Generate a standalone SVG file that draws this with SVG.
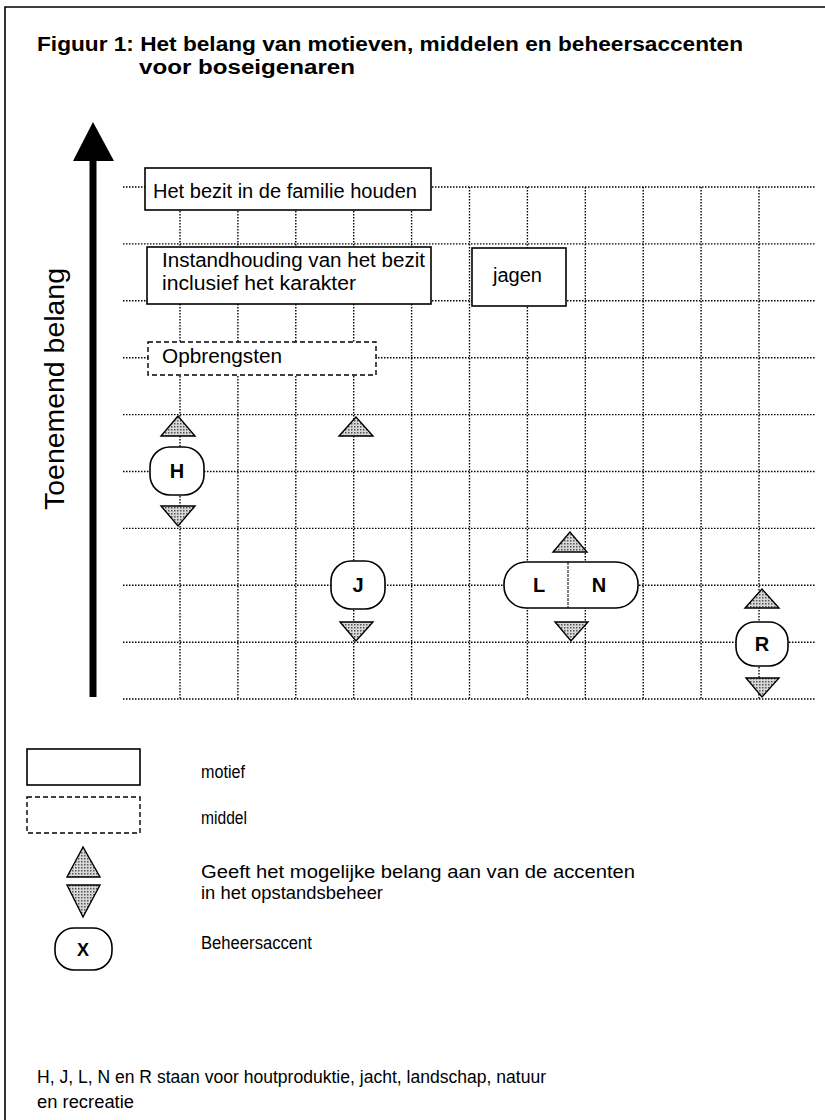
<svg xmlns="http://www.w3.org/2000/svg" width="825" height="1120" viewBox="0 0 825 1120">
<style>
text{font-family:"Liberation Sans",Arial,sans-serif;fill:#000}
.t{font-size:20px;font-weight:bold}
.n{font-size:20px}
.k{font-size:20px;font-weight:bold;text-anchor:middle}
.l{font-size:17.5px}
.grid line{stroke:#000;stroke-width:1.4;stroke-dasharray:1.5 1.5}
.box{fill:#fff;stroke:#000;stroke-width:1.6}
.dbox{fill:#fff;stroke:#000;stroke-width:1.4;stroke-dasharray:5 3}
.pill{fill:#fff;stroke:#000;stroke-width:1.6}
.tri{fill:url(#stip);stroke:#000;stroke-width:1.4;stroke-linejoin:miter}
</style>
<defs>
<pattern id="stip" width="3" height="3" patternUnits="userSpaceOnUse">
<rect width="3" height="3" fill="#d8d8d8"/>
<rect width="1.5" height="1.5" fill="#555"/>
</pattern>
</defs>
<rect width="825" height="1120" fill="#fff"/>
<path d="M826,7 H5 V1121" fill="none" stroke="#000" stroke-width="1.6"/>
<text class="t" x="37" y="51" textLength="706" lengthAdjust="spacingAndGlyphs">Figuur 1: Het belang van motieven, middelen en beheersaccenten</text>
<text class="t" x="139" y="74" textLength="216" lengthAdjust="spacingAndGlyphs">voor boseigenaren</text>
<g id="axis">
<line x1="93" y1="158" x2="93" y2="697" stroke="#000" stroke-width="7"/>
<polygon points="93,122 73,161 114,161" fill="#000"/>
<text class="n" transform="translate(64,389) rotate(-90)" text-anchor="middle" style="font-size:28px" textLength="242" lengthAdjust="spacingAndGlyphs">Toenemend belang</text>
</g>
<g id="connectors" class="grid">
<line x1="123" y1="187" x2="815" y2="187"/>
<line x1="123" y1="243.9" x2="815" y2="243.9"/>
<line x1="123" y1="300.8" x2="815" y2="300.8"/>
<line x1="123" y1="357.7" x2="815" y2="357.7"/>
<line x1="123" y1="414.6" x2="815" y2="414.6"/>
<line x1="123" y1="471.5" x2="815" y2="471.5"/>
<line x1="123" y1="528.4" x2="815" y2="528.4"/>
<line x1="123" y1="585.3" x2="815" y2="585.3"/>
<line x1="123" y1="642.2" x2="815" y2="642.2"/>
<line x1="123" y1="699" x2="815" y2="699"/>
<line x1="180" y1="187" x2="180" y2="699"/>
<line x1="237.9" y1="187" x2="237.9" y2="699"/>
<line x1="295.8" y1="187" x2="295.8" y2="699"/>
<line x1="353.7" y1="187" x2="353.7" y2="699"/>
<line x1="411.6" y1="187" x2="411.6" y2="699"/>
<line x1="469.5" y1="187" x2="469.5" y2="699"/>
<line x1="527.4" y1="187" x2="527.4" y2="699"/>
<line x1="585.3" y1="187" x2="585.3" y2="699"/>
<line x1="643.2" y1="187" x2="643.2" y2="699"/>
<line x1="701.1" y1="187" x2="701.1" y2="699"/>
<line x1="759" y1="187" x2="759" y2="699"/>
</g>
<g id="node-familie">
<rect class="box" x="145" y="168" width="286" height="42"/>
<text class="n" x="153" y="198" textLength="264" lengthAdjust="spacingAndGlyphs">Het bezit in de familie houden</text>
</g>
<g id="node-instandhouding">
<rect class="box" x="147" y="247" width="284" height="57"/>
<text class="n" x="162" y="267" textLength="263" lengthAdjust="spacingAndGlyphs">Instandhouding van het bezit</text>
<text class="n" x="162" y="290" textLength="194" lengthAdjust="spacingAndGlyphs">inclusief het karakter</text>
</g>
<g id="node-jagen">
<rect class="box" x="472" y="248" width="94" height="58"/>
<text class="n" x="493" y="282" textLength="49" lengthAdjust="spacingAndGlyphs">jagen</text>
</g>
<g id="node-opbrengsten">
<rect class="dbox" x="148" y="342" width="228" height="33"/>
<text class="n" x="162" y="363" textLength="120" lengthAdjust="spacingAndGlyphs">Opbrengsten</text>
</g>
<g id="node-H">
<polygon class="tri" points="178,416 161,436 195,436"/>
<rect class="pill" x="150" y="447" width="54" height="48" rx="20"/>
<text class="k" x="177" y="478">H</text>
<polygon class="tri" points="161,506 195,506 178,526"/>
</g>
<g id="node-J">
<polygon class="tri" points="356,417 339,436 373,436"/>
<rect class="pill" x="331" y="561" width="54" height="48" rx="20"/>
<text class="k" x="358" y="592">J</text>
<polygon class="tri" points="340,622 373,622 356,641"/>
</g>
<g id="node-LN">
<polygon class="tri" points="570,532 553,552 587,552"/>
<rect class="pill" x="504" y="562" width="134" height="46" rx="22"/>
<line x1="568" y1="562" x2="568" y2="608" stroke="#000" stroke-width="1" stroke-dasharray="3 1"/>
<text class="k" x="539" y="592">L</text>
<text class="k" x="599" y="592">N</text>
<polygon class="tri" points="555,622 588,622 571,641"/>
</g>
<g id="node-R">
<polygon class="tri" points="762,589 745,608 779,608"/>
<rect class="pill" x="736" y="622" width="52" height="44" rx="19"/>
<text class="k" x="762" y="651">R</text>
<polygon class="tri" points="746,678 779,678 762,697"/>
</g>
<g id="legend">
<rect class="box" x="27" y="749" width="113" height="36"/>
<text class="l" x="201" y="778" textLength="44" lengthAdjust="spacingAndGlyphs">motief</text>
<rect class="dbox" x="27" y="797" width="113" height="36"/>
<text class="l" x="201" y="824" textLength="46" lengthAdjust="spacingAndGlyphs">middel</text>
<polygon class="tri" points="83,847 67,877 100,877"/>
<polygon class="tri" points="67,885 100,885 83,917"/>
<text class="l" x="201" y="878" textLength="434" lengthAdjust="spacingAndGlyphs">Geeft het mogelijke belang aan van de accenten</text>
<text class="l" x="201" y="899" textLength="182" lengthAdjust="spacingAndGlyphs">in het opstandsbeheer</text>
<rect class="pill" x="55" y="928" width="57" height="42" rx="19"/>
<text class="k" x="83" y="956" style="font-size:18px">X</text>
<text class="l" x="201" y="949" textLength="111" lengthAdjust="spacingAndGlyphs">Beheersaccent</text>
</g>
<text class="l" x="37" y="1083" textLength="509" lengthAdjust="spacingAndGlyphs">H, J, L, N en R staan voor houtproduktie, jacht, landschap, natuur</text>
<text class="l" x="37" y="1108" textLength="97" lengthAdjust="spacingAndGlyphs">en recreatie</text>
</svg>
